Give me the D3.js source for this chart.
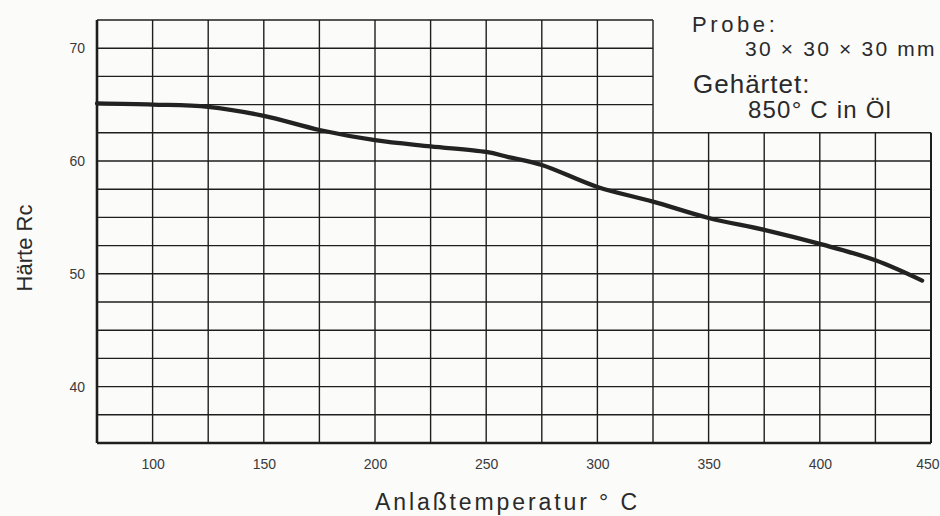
<!DOCTYPE html>
<html>
<head>
<meta charset="utf-8">
<script src="https://cdn.jsdelivr.net/npm/d3@7"></script>
<style>
  body { margin: 0; background: #fbfbfa; }
  svg { display: block; font-family: "Liberation Sans", Arial, sans-serif; }
</style>
</head>
<body>
<svg id="chart" width="940" height="516"></svg>
<script>
// Anlasskurve, Haerte ueber Anlasstemperatur
var temps    = [75, 100, 125, 150, 175, 200, 225, 250, 260, 275, 300, 325, 350, 375, 400, 425, 446];
var hardness = [65.1, 65.0, 64.8, 64.0, 62.75, 61.85, 61.3, 60.8, 60.35, 59.65, 57.7, 56.4, 54.95, 53.9, 52.65, 51.2, 49.4];

var xTicks = [100, 150, 200, 250, 300, 350, 400, 450];
var yTicks = [40, 50, 60, 70];
var xGrid = d3.range(75, 451, 25);       // every 25 deg
var yGrid = d3.range(35, 72.6, 2.5);     // every 2.5 Rc

var notes = [
  {text: "Probe:", x: 692, y: 32, size: 22, ls: 3.6},
  {text: "30 \u00d7 30 \u00d7 30 mm", x: 745, y: 56, size: 21, ls: 2.2},
  {text: "Geh\u00e4rtet:", x: 693, y: 93, size: 26, ls: 1},
  {text: "850\u00b0 C in \u00d6l", x: 748, y: 118, size: 24, ls: 1.2}
];

var ink = "#1e1e1e";
var svg = d3.select("#chart");

var x = d3.scaleLinear().domain([75, 450]).range([97, 931]);
var y = d3.scaleLinear().domain([35, 72.5]).range([443, 20]);

// the box top right (legend) cuts out the grid above 62.5 / right of 325
var cutX = 325, cutY = 62.5;

var grid = svg.append("g").attr("stroke", ink).attr("stroke-width", 1.4);

grid.selectAll(".vl").data(xGrid).enter().append("line")
    .attr("class", "vl")
    .attr("x1", function(d) { return x(d); })
    .attr("x2", function(d) { return x(d); })
    .attr("y1", y(35))
    .attr("y2", function(d) { return d > cutX ? y(cutY) : y(72.5); })
    .attr("stroke-width", function(d) { return d == 75 ? 2.6 : (d == 450 ? 2 : 1.4); });

grid.selectAll(".hl").data(yGrid).enter().append("line")
    .attr("class", "hl")
    .attr("y1", function(d) { return y(d); })
    .attr("y2", function(d) { return y(d); })
    .attr("x1", x(75))
    .attr("x2", function(d) { return d > cutY ? x(cutX) : x(450); })
    .attr("stroke-width", function(d) { return d == 35 ? 2.6 : 1.4; });

// axes: labels only
var xAxis = svg.append("g")
    .attr("transform", "translate(0," + y(35) + ")")
    .call(d3.axisBottom(x).tickValues(xTicks).tickSize(0).tickPadding(16).tickFormat(d3.format("d")));
var yAxis = svg.append("g")
    .attr("transform", "translate(" + x(75) + ",0)")
    .call(d3.axisLeft(y).tickValues(yTicks).tickSize(0).tickPadding(12).tickFormat(d3.format("d")));

[xAxis, yAxis].forEach(function(a) {
  a.select(".domain").remove();
  a.selectAll("text")
    .attr("font-family", "'Liberation Sans', Arial, sans-serif")
    .attr("font-size", 14)
    .attr("fill", "#3a3a3a");
});
// last label sits at the page edge, keep it inside
xAxis.selectAll(".tick").filter(function(d) { return d == 450; }).select("text")
    .attr("text-anchor", "end").attr("x", 8);

// curve
var line = d3.line()
    .x(function(d) { return x(d[0]); })
    .y(function(d) { return y(d[1]); })
    .curve(d3.curveCatmullRom.alpha(0.5));

svg.append("path")
    .datum(d3.zip(temps, hardness))
    .attr("d", line)
    .attr("fill", "none")
    .attr("stroke", "#222")
    .attr("stroke-width", 4.3)
    .attr("stroke-linecap", "round");

// titles
svg.append("text")
    .attr("transform", "translate(32,248) rotate(-90)")
    .attr("text-anchor", "middle")
    .attr("font-size", 22)
    .attr("fill", "#2a2a2a")
    .text("H\u00e4rte Rc");

svg.append("text")
    .attr("x", 375).attr("y", 510)
    .attr("font-size", 23)
    .attr("letter-spacing", 2.9)
    .attr("fill", "#2a2a2a")
    .text("Anla\u00dftemperatur \u00b0 C");

svg.selectAll(".note").data(notes).enter().append("text")
    .attr("class", "note")
    .attr("x", function(d) { return d.x; })
    .attr("y", function(d) { return d.y; })
    .attr("font-size", function(d) { return d.size; })
    .attr("letter-spacing", function(d) { return d.ls; })
    .attr("fill", "#2a2a2a")
    .text(function(d) { return d.text; });
</script>
</body>
</html>
